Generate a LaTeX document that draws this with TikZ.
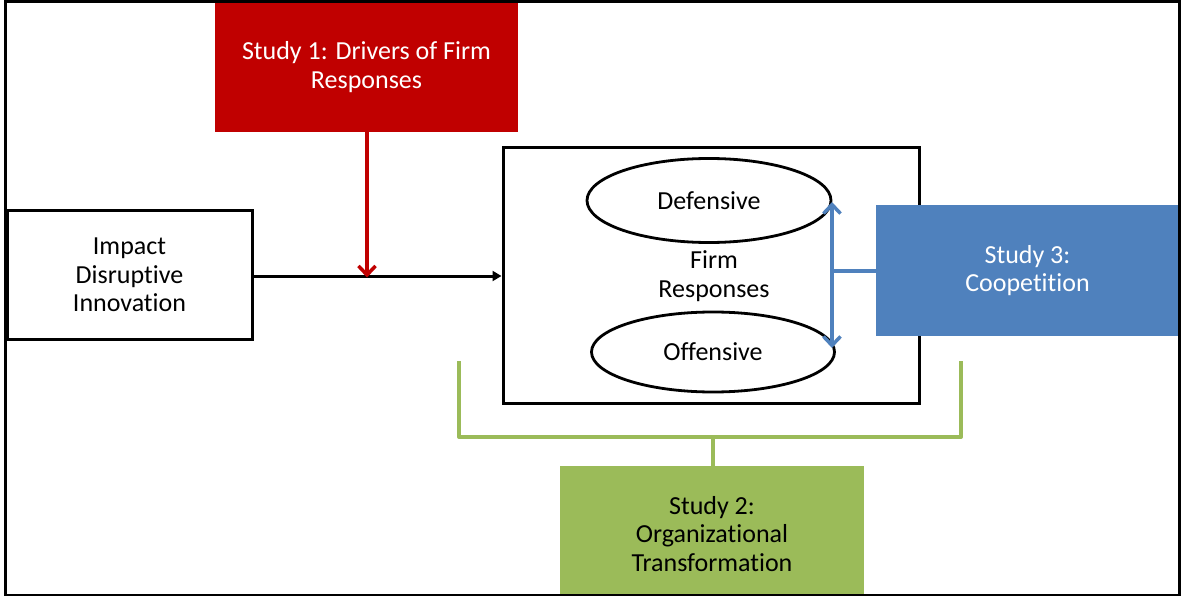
\documentclass[tikz,border=0pt]{standalone}
\usepackage{fontspec}
\setmainfont{Carlito}[Ligatures=NoCommon]
\usetikzlibrary{arrows.meta,shapes.geometric}
\definecolor{studyred}{HTML}{C00000}
\definecolor{studyblue}{HTML}{4F81BD}
\definecolor{studygreen}{HTML}{9BBB59}
\tikzset{
  lbl/.style={font=\fontsize{26}{28.5}\selectfont, align=center, inner sep=0pt},
  plainbox/.style={draw=black, line width=3pt, fill=white, lbl},
  studybox/.style={lbl, minimum width=303pt, minimum height=130pt},
  oval/.style={ellipse, draw=black, line width=2.8pt, fill=white, lbl, minimum width=244pt, minimum height=84pt},
  mainarrow/.style={line width=3pt, -{Triangle[length=9pt,width=10pt]}},
  redarrow/.style={draw=studyred, line width=3.5pt, -{Straight Barb[length=9pt,width=17pt,line width=3.5pt]}},
  bluearrow/.style={draw=studyblue, line width=3.5pt, {Straight Barb[length=9pt,width=17pt,line width=3.5pt]}-{Straight Barb[length=9pt,width=17pt,line width=3.5pt]}},
  blueline/.style={draw=studyblue, line width=3.5pt},
  greenline/.style={draw=studygreen, line width=4pt, line join=round}
}
\begin{document}
\begin{tikzpicture}[x=1pt,y=-1pt]
\useasboundingbox (0,0) rectangle (1181,596);
\fill[white] (0,0) rectangle (1181,596);
% boxes
\node[studybox, fill=studyred, text=white, minimum width=303pt, minimum height=130pt] (s1) at (366.5,67) {Study 1: Drivers of Firm\\Responses};
\node[plainbox, minimum width=245pt, minimum height=128pt] (impact) at (129.5,275) {Impact\\Disruptive\\Innovation};
\node[draw=black, line width=3pt, fill=white, minimum width=416pt, minimum height=255pt, inner sep=0pt] (firm) at (711,275.5) {};
\node[oval] (def) at (709,200.5) {Defensive};
\node[oval, minimum width=243pt, minimum height=80pt] (off) at (713,352) {Offensive};
\node[lbl] (fr) at (714,276) {Firm\\Responses};
\node[studybox, fill=studyblue, text=white, minimum width=303pt, minimum height=131pt] (s3) at (1027.5,270.5) {Study 3:\\Coopetition};
\node[studybox, fill=studygreen, text=black, minimum width=304pt, minimum height=136pt] (s2) at (712,534) {Study 2:\\Organizational\\Transformation};
% connectors
\coordinate (join) at (367,276);
\draw[mainarrow] (impact.east |- join) -- (firm.west |- join);
\draw[redarrow] (s1.south -| join) -- ([yshift=-1.5pt]join);
\coordinate (btop) at (832,202);
\coordinate (bbot) at (832,348);
\coordinate (bmid) at (832,271);
\draw[bluearrow] (btop) -- (bbot);
\draw[blueline] (s3.west |- bmid) -- (bmid);
\coordinate (gl) at (459,361);
\coordinate (gr) at (961,361);
\coordinate (gm) at (713,437);
\draw[greenline] (gl) |- (gm) -| (gr);
\draw[greenline] (gm) -- (s2.north -| gm);
% outer frame
\draw[black, line width=3pt] (5,2) rectangle (1179.5,595);
\end{tikzpicture}
\end{document}
